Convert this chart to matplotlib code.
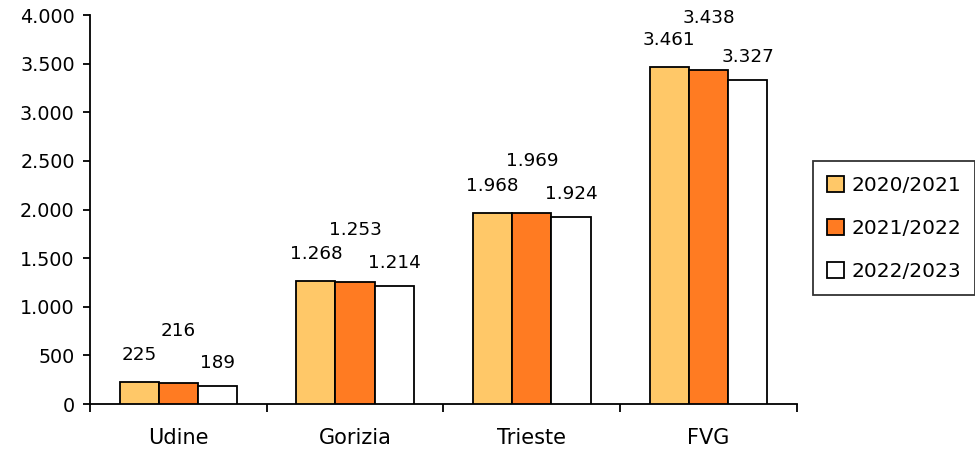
import matplotlib.pyplot as plt
import numpy as np
from matplotlib.ticker import FuncFormatter

categories = ["Udine", "Gorizia", "Trieste", "FVG"]
series_names = ["2020/2021", "2021/2022", "2022/2023"]
v2020 = [225, 1268, 1968, 3461]
v2021 = [216, 1253, 1969, 3438]
v2022 = [189, 1214, 1924, 3327]

colors = ["#FFC868", "#FF7B22", "#FFFFFF"]
label_offsets = [18, 43, 14]  # pixels above bar top

plt.rcParams['font.family'] = ['DejaVu Sans']

fig = plt.figure(figsize=(9.75, 4.51), dpi=100)
ax = fig.add_axes([0.0923, 0.1042, 0.7251, 0.8625])

x = np.arange(len(categories))
w = 0.222
for i, vals in enumerate([v2020, v2021, v2022]):
    pos = x + (i - 1) * w
    ax.bar(pos, vals, width=w, color=colors[i], edgecolor="black",
           linewidth=1.3, label=series_names[i], zorder=3)
    for p, v in zip(pos, vals):
        ax.annotate(f"{v:,}".replace(",", "."), (p, v), xytext=(0, label_offsets[i]),
                    textcoords="offset pixels", ha="center", va="bottom", fontsize=13.2)

ax.set_xlim(-0.5, len(categories) - 0.5)
ax.set_ylim(0, 4000)
ax.set_yticks(np.arange(0, 4001, 500))
ax.yaxis.set_major_formatter(FuncFormatter(lambda v, _: f"{int(v):,}".replace(",", ".")))

ax.set_xticks(np.arange(-0.5, len(categories), 1))
ax.set_xticklabels([])
ax.set_xticks(x, minor=True)
ax.set_xticklabels(categories, minor=True, fontsize=15)
ax.tick_params(axis="x", which="minor", length=0, pad=17)
ax.tick_params(axis="x", which="major", length=6, width=1.3, direction="out")
ax.tick_params(axis="y", length=5, width=1.3, labelsize=13.8, direction="out", pad=6)

for s in ["top", "right"]:
    ax.spines[s].set_visible(False)
for s in ["left", "bottom"]:
    ax.spines[s].set_linewidth(1.3)

leg = fig.legend(loc="upper left", bbox_to_anchor=(0.834, 0.642), fontsize=14.5,
                 frameon=True, fancybox=False, edgecolor="black", handlelength=0.85,
                 handleheight=0.85, handletextpad=0.35, labelspacing=1.2, borderpad=0.7,
                 borderaxespad=0)
leg.get_frame().set_linewidth(1.3)

fig.savefig("out.png", dpi=100)
